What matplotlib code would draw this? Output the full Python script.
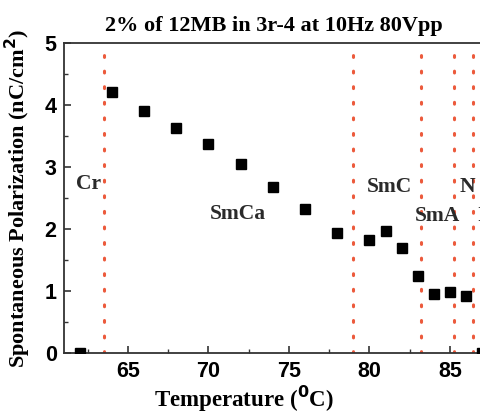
import matplotlib
matplotlib.use("Agg")
import matplotlib.pyplot as plt
from matplotlib.ticker import MultipleLocator

# data
temperature = [62, 64, 66, 68, 70, 72, 74, 76, 78, 80, 81, 82, 83, 84, 85, 86, 87]
polarization = [0.0, 4.21, 3.91, 3.63, 3.38, 3.05, 2.68, 2.32, 1.93, 1.83, 1.97, 1.7,
                1.24, 0.96, 0.98, 0.92, 0.0]

# phase transition temperatures (dotted lines)
transitions = [63.5, 79.0, 83.2, 85.27, 86.42]

# phase labels: (text, temperature, polarization)
phase_names = ["Cr", "SmCa", "SmC", "SmA", "N", "I"]
phase_x = [62.55, 71.8, 81.27, 84.2, 86.06, 86.95]
phase_y = [2.73, 2.24, 2.68, 2.21, 2.68, 2.21]

serif = "Liberation Serif"
sans = "Liberation Sans"

fig = plt.figure(figsize=(4.81, 4.16), dpi=100)
ax = fig.add_axes([0.1322, 0.1514, 0.9037, 0.745])

for t in transitions:
    ax.axvline(t, color="#ec5a3c", linewidth=2.2, linestyle=(0, (0.6, 4.5)),
               dash_capstyle="round", zorder=1)

ax.plot(temperature, polarization, "ks", markersize=7, linestyle="none", zorder=3)

for name, x, y in zip(phase_names, phase_x, phase_y):
    ax.text(x, y, name, ha="center", va="center", fontsize=15.5,
            fontweight="bold", family=serif, color="#2a2a2a")

ax.set_xlim(61, 88)
ax.set_ylim(0, 5)
ax.xaxis.set_major_locator(MultipleLocator(5))
ax.xaxis.set_minor_locator(MultipleLocator(2.5))
ax.yaxis.set_major_locator(MultipleLocator(1))
ax.yaxis.set_minor_locator(MultipleLocator(0.5))
ax.tick_params(which="both", direction="in", top=False, right=False, color="#333333")
ax.tick_params(which="major", length=5, width=1.2, labelsize=15.5)
ax.tick_params(axis="x", which="major", pad=6)
ax.tick_params(axis="y", which="major", pad=5)
ax.tick_params(which="minor", length=3, width=1)
for lab in ax.get_xticklabels() + ax.get_yticklabels():
    lab.set_fontfamily(sans)
    lab.set_fontweight("bold")

for s in ax.spines.values():
    s.set_linewidth(1.3)
    s.set_color("#333333")

ax.set_title("2% of 12MB in 3r-4 at 10Hz 80Vpp", fontsize=16,
             fontweight="bold", family=serif, x=0.484, pad=8.5)
ax.set_xlabel("Temperature ($\\mathbf{^0}$C)", fontsize=16.5, fontweight="bold",
              family=serif)
ax.xaxis.set_label_coords(0.415, -0.1)
ax.set_ylabel("Spontaneous Polarization (nC/cm$\\mathbf{^2}$)", fontsize=16,
              fontweight="bold", family=serif)
ax.yaxis.set_label_coords(-0.07, 0.5)

fig.savefig("out.png", dpi=100)
